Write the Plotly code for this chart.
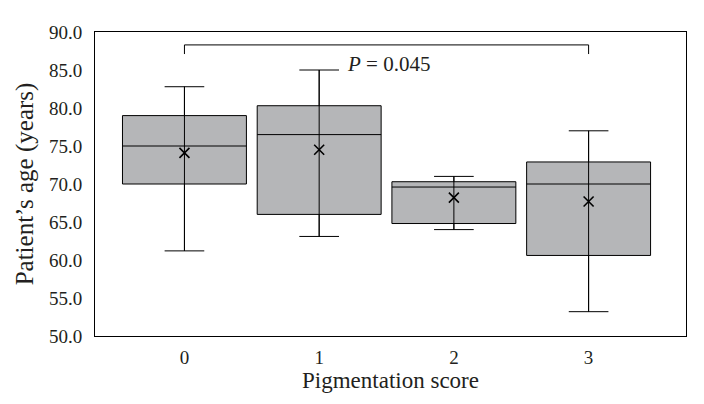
import plotly.graph_objects as go

# Pigmentation score groups and age summary statistics (years)
scores = [0, 1, 2, 3]
score_labels = ["0", "1", "2", "3"]
lower_whisker = [61.2, 63.1, 64.0, 53.2]
q1 = [70.0, 66.0, 64.8, 60.6]
median = [75.0, 76.5, 69.6, 70.0]
q3 = [79.0, 80.3, 70.3, 72.9]
upper_whisker = [82.8, 85.0, 71.0, 77.0]
mean = [74.1, 74.5, 68.2, 67.7]

# significance bracket between score 0 and score 3
compare_pair = [0, 3]
bracket_top = 88.3
bracket_end = 87.1
p_text = "<i>P</i> = 0.045"

serif = "Liberation Serif, Times New Roman, serif"
ink = "#231f20"

fig = go.Figure()

fig.add_trace(go.Box(
    x=scores,
    q1=q1, median=median, q3=q3,
    lowerfence=lower_whisker, upperfence=upper_whisker,
    width=0.92,
    whiskerwidth=0.32,
    fillcolor="#b5b6b8",
    line=dict(color="black", width=1),
    boxpoints=False,
    hoverinfo="skip",
    showlegend=False,
))

# whisker line drawn right through each box, as in the original
wx, wy = [], []
for s, lo, hi in zip(scores, lower_whisker, upper_whisker):
    wx += [s, s, None]
    wy += [lo, hi, None]
fig.add_trace(go.Scatter(
    x=wx, y=wy, mode="lines",
    line=dict(color="black", width=1),
    hoverinfo="skip", showlegend=False,
))

# mean markers
fig.add_trace(go.Scatter(
    x=scores, y=mean, mode="markers",
    marker=dict(symbol="x-thin", size=10, line=dict(color="black", width=1.6)),
    hoverinfo="skip", showlegend=False,
))

fig.add_shape(
    type="path",
    path=(f"M {compare_pair[0]},{bracket_end} L {compare_pair[0]},{bracket_top} "
          f"L {compare_pair[1]},{bracket_top} L {compare_pair[1]},{bracket_end}"),
    line=dict(color="black", width=1),
)
fig.add_annotation(
    x=1.19, y=85.8, xref="x", yref="y",
    text=p_text, showarrow=False, xanchor="left", yanchor="middle",
    font=dict(family=serif, size=21, color=ink),
)

fig.update_layout(
    width=704, height=404,
    margin=dict(l=95, r=18, t=32, b=68),
    plot_bgcolor="white", paper_bgcolor="white",
    font=dict(family=serif, size=19, color=ink),
)
fig.update_xaxes(
    range=[-0.664, 3.723],
    tickmode="array", tickvals=scores, ticktext=score_labels,
    showline=True, linecolor="black", linewidth=1, mirror=True,
    showgrid=False, zeroline=False,
    ticks="outside", ticklen=4, tickcolor="rgba(0,0,0,0)",
    tickfont=dict(family=serif, size=19, color=ink),
    title=dict(text="Pigmentation score", standoff=4,
               font=dict(family=serif, size=23, color=ink)),
)
fig.update_yaxes(
    range=[50, 90], dtick=5, tickformat=".1f",
    showline=True, linecolor="black", linewidth=1, mirror=True,
    showgrid=False, zeroline=False,
    ticks="outside", ticklen=8, tickcolor="rgba(0,0,0,0)",
    tickfont=dict(family=serif, size=19, color=ink),
    title=dict(text="Patient’s age (years)", standoff=8,
               font=dict(family=serif, size=25, color=ink)),
)

fig.write_html("out.html", config={"displayModeBar": False},
               post_script="document.body.style.margin='0';")
